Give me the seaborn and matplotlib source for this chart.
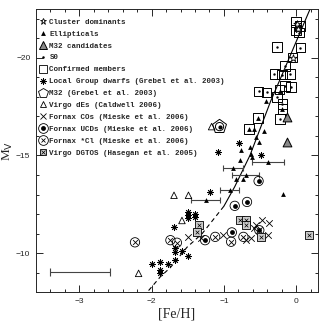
import numpy as np
import pandas as pd
import seaborn as sns
import matplotlib.pyplot as plt
from matplotlib.lines import Line2D

# ---- data ([Fe/H], M_V) ----
# ellipticals (filled small triangles)
ell_feh = [-0.42, -0.53, -0.65, -0.58, -0.44, -0.55, -0.51, -0.64, -0.76, -0.62,
           -0.61, -0.78, -0.23, -0.19, -0.18, -0.83, -0.73]
ell_mv = [-17.77, -16.94, -16.36, -16.36, -16.28, -15.93, -15.68, -15.42, -15.26, -15.09,
          -14.91, -14.78, -18.28, -17.38, -13.05, -13.81, -13.81]
# ellipticals with error bars
ebar_feh = [-0.39, -0.87, -0.70, -0.92, -1.25]
ebar_mv = [-14.66, -14.37, -13.98, -13.25, -12.70]
ebar_err = [0.22, 0.14, 0.19, 0.13, 0.20]

# confirmed members (open squares)
conf_feh = [0.00, 0.05, 0.00, 0.04, -0.26, 0.06, -0.05, -0.16, -0.30, -0.20, -0.09,
            -0.52, -0.41, -0.23, -0.16, -0.07, -0.26, -0.19, -0.19, -0.22, -0.53, -0.65]
conf_mv = [-21.85, -21.65, -21.45, -21.30, -20.58, -20.53, -20.02, -19.60, -19.17, -19.15, -19.17,
           -18.28, -18.23, -18.38, -18.57, -18.52, -17.98, -17.64, -17.38, -16.87, -16.94, -16.36]
# S0 (small dots)
s0_feh = [0.00, 0.05, 0.00, 0.04, -0.26, 0.06, -0.16, -0.30, -0.20, -0.09,
          -0.52, -0.41, -0.07, -0.26, -0.19, -0.22, -0.16]
s0_mv = [-21.85, -21.65, -21.45, -21.30, -20.58, -20.53, -19.60, -19.17, -19.15, -19.17,
         -18.28, -18.23, -18.52, -17.98, -17.64, -16.87, -18.57]
# cluster dominants
cd_feh = [0.01, 0.03, -0.05]
cd_mv = [-21.75, -21.50, -20.02]
# M32 candidates
m32c_feh = [-0.12, -0.12]
m32c_mv = [-16.95, -15.70]
# Local Group dwarfs
lg_feh = [-1.08, -0.79, -0.49, -1.19, -1.69, -1.49, -1.49, -1.49, -1.40, -1.40,
          -1.68, -1.68, -1.58, -1.99, -1.89, -1.78, -1.68, -1.49, -1.89, -1.89]
lg_mv = [-15.17, -15.63, -15.05, -13.13, -11.34, -12.11, -11.94, -11.78, -12.02, -11.85,
         -10.24, -10.07, -10.10, -9.44, -9.56, -9.44, -9.64, -9.85, -9.13, -8.96]
# M32 (Grebel et al. 2003)
m32_feh = [-1.06]
m32_mv = [-16.48]
# Virgo dEs (Caldwell 2006)
vde_feh = [-1.17, -1.69, -1.49, -1.58, -2.18]
vde_mv = [-16.48, -12.96, -12.96, -11.67, -8.96]
# Fornax COs
fco_feh = [-1.50, -1.31, -1.01, -0.69, -0.62, -0.47, -0.37, -0.55, -0.39, -0.58, -0.52]
fco_mv = [-10.83, -10.75, -10.92, -10.66, -10.75, -11.72, -11.56, -11.43, -10.92, -11.30, -11.20]
# Fornax UCDs
fucd_feh = [-0.52, -0.85, -0.68, -0.89, -0.51, -1.26]
fucd_mv = [-13.69, -12.42, -12.62, -11.06, -11.17, -10.66]
# Fornax *Cl
fcl_feh = [-1.74, -1.65, -1.12, -0.90, -0.73, -2.23]
fcl_mv = [-10.66, -10.53, -10.83, -10.58, -10.83, -10.55]
# Virgo DGTOs
dgto_feh = [-0.78, -0.69, -0.69, -1.34, -1.37, -0.48, 0.18]
dgto_mv = [-11.72, -11.72, -11.46, -11.46, -11.06, -10.83, -10.95]

# relation curve (solid part and dashed extrapolation)
fit_feh = [0.20, -0.19, -0.35, -0.64, -0.85, -1.00]
fit_mv = [-22.57, -19.18, -17.81, -15.00, -13.40, -12.40]
ext_feh = [-1.00, -1.30, -1.51, -1.74, -1.88, -2.06]
ext_mv = [-12.40, -11.00, -10.30, -9.26, -8.78, -8.00]

# typical error bar
typ_feh, typ_mv, typ_err = -2.99, -9.05, 0.41

sns.set_style('ticks')
plt.rcParams['font.family'] = ['Liberation Sans', 'DejaVu Sans']

fig = plt.figure(figsize=(3.24, 3.26), dpi=100)
ax = fig.add_axes([0.111, 0.104, 0.870, 0.868])

k = 'black'
sns.lineplot(x=fit_feh, y=fit_mv, sort=False, color=k, lw=0.8, ax=ax)
sns.lineplot(x=ext_feh, y=ext_mv, sort=False, color=k, lw=0.8, ls=(0, (4, 3)), ax=ax)

ax.errorbar(ebar_feh, ebar_mv, xerr=ebar_err, fmt='none', ecolor='#444444',
            elinewidth=0.8, capsize=2.5, capthick=0.8)
ax.errorbar([typ_feh], [typ_mv], xerr=[typ_err], fmt='none', ecolor='#444444',
            elinewidth=0.8, capsize=3, capthick=0.8)


def pts(x, y, marker, s, fc, ec='black', lw=0.6):
    sns.scatterplot(x=x, y=y, marker=marker, s=s, facecolor=fc, edgecolor=ec,
                    linewidth=lw, ax=ax, zorder=3)


pts(conf_feh, conf_mv, 's', 50, 'none', lw=0.7)
pts(s0_feh, s0_mv, 'o', 3, k, lw=0)
pts(cd_feh, cd_mv, '*', 30, 'white', lw=0.6)
pts(ell_feh, ell_mv, '^', 12, k, lw=0)
pts(ebar_feh, ebar_mv, '^', 12, k, lw=0)
pts(m32c_feh, m32c_mv, '^', 40, '#888888', lw=0.7)
pts(lg_feh, lg_mv, 'o', 6, k, lw=0)
pts(lg_feh, lg_mv, (8, 2, 0), 20, k, lw=0.6)
pts(m32_feh, m32_mv, 'p', 110, 'none', lw=0.7)
pts(m32_feh, m32_mv, 'o', 35, 'none', lw=0.7)
pts(m32_feh, m32_mv, 'o', 9, k, lw=0)
pts(vde_feh, vde_mv, '^', 22, 'none', lw=0.6)
pts(fco_feh, fco_mv, 'x', 22, k, lw=0.6)
pts(fucd_feh, fucd_mv, 'o', 45, 'none', lw=0.6)
pts(fucd_feh, fucd_mv, 'o', 12, k, lw=0)
pts(fcl_feh, fcl_mv, 'o', 45, 'none', lw=0.6)
pts(fcl_feh, fcl_mv, 'x', 12, k, lw=0.6)
pts(dgto_feh, dgto_mv, 's', 26, '#cccccc', lw=0.6)
pts(dgto_feh, dgto_mv, 'x', 7, k, lw=0.5)

ax.set_xlim(-3.6, 0.3)
ax.set_ylim(-8, -22.5)
ax.set_xticks([-3, -2, -1, 0])
ax.set_xticks(np.arange(-3.4, 0.3, 0.2), minor=True)
ax.set_yticks([-20, -15, -10])
ax.set_yticks(np.arange(-22, -7.9, 1), minor=True)
ax.tick_params(which='both', direction='in', top=True, right=True, width=0.7,
               labelsize=6, pad=4)
ax.tick_params(which='major', length=5)
ax.tick_params(which='minor', length=2.5)
for sp in ax.spines.values():
    sp.set_linewidth(0.7)

ax.set_xlabel('[Fe/H]', family='Liberation Serif', fontsize=10, labelpad=2)
ax.set_ylabel(r'M$_{\rm V}$', family='Liberation Serif', fontsize=9.5)
ax.yaxis.set_label_coords(-0.075, 0.5)


def h(marker, ms, fc, ec='black', mew=0.6):
    return Line2D([], [], ls='none', marker=marker, ms=ms, mfc=fc, mec=ec, mew=mew)


handles = [
    h('*', 5, 'white'),
    h('^', 3.5, k, mew=0),
    h('^', 6, '#888888', mew=0.7),
    h('o', 1.8, k, mew=0),
    h('s', 6, 'none'),
    (h('o', 2.3, k, mew=0), h((8, 2, 0), 4.8, k, mew=0.6)),
    h('p', 7.5, 'none'),
    h('^', 5, 'none'),
    h('x', 4.5, k),
    (h('o', 7, 'none'), h('o', 3.5, k, mew=0)),
    (h('o', 7, 'none'), h('x', 3.5, k)),
    (h('s', 5, '#cccccc'), h('x', 2.5, k, mew=0.5)),
]
labels = [
    'Cluster dominants',
    'Ellipticals',
    'M32 candidates',
    'S0',
    'Confirmed members',
    'Local Group dwarfs (Grebel et al. 2003)',
    'M32 (Grebel et al. 2003)',
    'Virgo dEs (Caldwell 2006)',
    'Fornax COs (Mieske et al. 2006)',
    'Fornax UCDs (Mieske et al. 2006)',
    'Fornax *Cl (Mieske et al. 2006)',
    'Virgo DGTOS (Hasegan et al. 2005)',
]
ax.legend(handles, labels, loc='upper left', bbox_to_anchor=(0.0, 0.98), frameon=False,
          prop={'family': 'Liberation Mono', 'size': 5.4, 'weight': 'bold'},
          handlelength=0.8, handletextpad=0.5, labelspacing=0.62, borderaxespad=0.3,
          borderpad=0.2)

fig.savefig('out.png', dpi=100)
